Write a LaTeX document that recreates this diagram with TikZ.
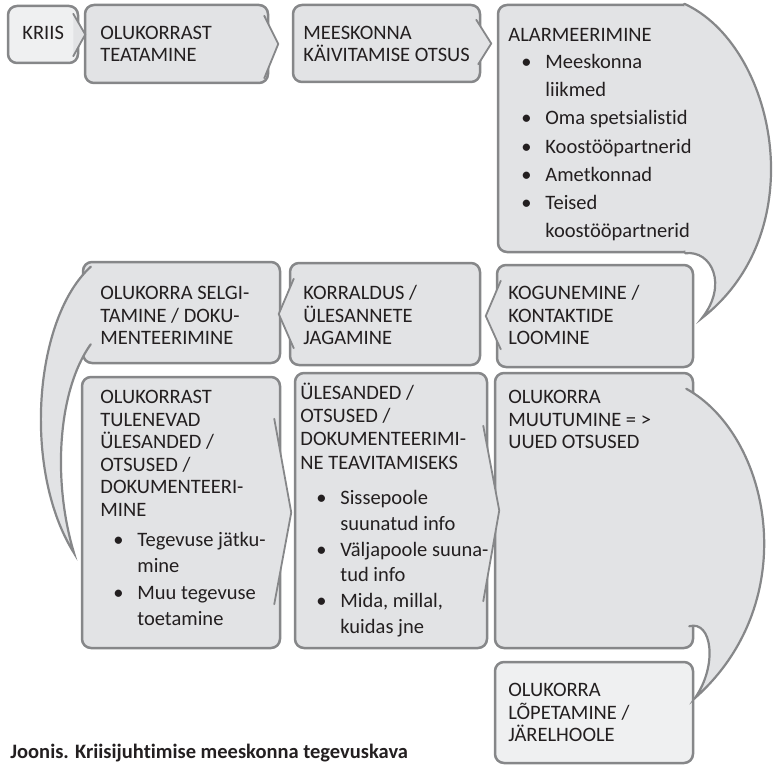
\documentclass[tikz,border=0pt]{standalone}
\usepackage{fontspec}
\setmainfont{Carlito}[Ligatures=NoCommon]
\usetikzlibrary{calc,fit}
\definecolor{boxline}{RGB}{134,135,137}
\definecolor{boxfill}{RGB}{226,227,229}
\definecolor{boxlight}{RGB}{239,240,241}
\definecolor{ink}{RGB}{35,31,32}
\tikzset{
  box/.style={rectangle, rounded corners=4.5pt, draw=boxline, fill=boxfill, line width=1.25pt, inner sep=0pt},
  lightbox/.style={box, fill=boxlight},
  tipline/.style={draw=boxline, fill=boxfill, line width=0.9pt, line cap=round, line join=round},
  bubble/.style={draw=boxline, fill=boxfill, line width=1.1pt, line cap=round},
  boxtext/.style={anchor=base west, inner sep=0pt, text=ink, font=\fontsize{10.25}{11.25}\selectfont}
}
\newcommand{\boxlines}[2][11.25pt]{\parbox[t]{8cm}{\raggedright\setlength{\baselineskip}{#1}#2}}
\newcommand{\bul}{\makebox[12pt][l]{\textbullet}}
\newcommand{\ind}{\hspace*{12pt}}
% chevron on the side of a box, towards the next one
\newcommand{\pointer}[3]{\path[tipline] #1 -- #2 -- #3;}

\begin{document}
\begin{tikzpicture}[x=0.5pt,y=-0.5pt]
\useasboundingbox (0,0) rectangle (775,765);
% boxes
\node[lightbox,fit={(8,6) (78,63)}] (kriis) {};
\node[box,fit={(85,5) (268,83)}] (teatamine) {};
\node[box,fit={(293,5) (480,82)}] (otsus) {};
\node[box,fit={(498,5) (693,252)}] (alarm) {};
\node[box,fit={(497,265) (693,367)}] (kogunemine) {};
\node[box,fit={(290,263) (480,365)}] (korraldus) {};
\node[box,fit={(83,262) (280,363)}] (selgitamine) {};
\node[box,fit={(82,377) (280,648)}] (tulenevad) {};
\node[box,fit={(295,373) (487,648)}] (teavitamine) {};
\node[box,fit={(495,373) (693,648)}] (muutumine) {};
\node[lightbox,fit={(495,662) (693,763)}] (lopetamine) {};

% chevrons
\pointer{($(kriis.north east)+(-6,9)$)}{($(kriis.east)+(6,0)$)}{($(kriis.south east)+(-6,-8)$)}
\pointer{($(teatamine.north east)+(-5,12)$)}{($(teatamine.east)+(9,0)$)}{($(teatamine.south east)+(-5,-6)$)}
\pointer{($(otsus.north east)+(-5,16)$)}{($(otsus.east)+(10,0)$)}{($(otsus.south east)+(-3,-19)$)}
\pointer{($(kogunemine.north west)+(5,17)$)}{($(kogunemine.west)+(-10,0)$)}{($(kogunemine.south west)+(5,-19)$)}
\pointer{($(korraldus.north west)+(5,17)$)}{($(korraldus.west)+(-10,0)$)}{($(korraldus.south west)+(5,-18)$)}
\pointer{($(tulenevad.north east)+(-7,43)$)}{($(tulenevad.east)+(10,0)$)}{($(tulenevad.south east)+(-7,-45)$)}
\pointer{($(teavitamine.north east)+(-5,54)$)}{($(teavitamine.east)+(11,0)$)}{($(teavitamine.south east)+(-5,-48)$)}

% bent arrows
\coordinate (alarmtip) at (702,318);
\coordinate (selgtip) at (74,553);
\coordinate (muuttip) at (695,698);
\path[bubble] ($(alarm.north east)+(-10,0)$) .. controls (775,45) and (815,230) .. (alarmtip)
  .. controls (728,285) and (712,250) .. ($(alarm.south east)+(-9,0)$);
\path[bubble] ($(selgitamine.north west)+(9,6)$) .. controls (34,318) and (22,470) .. (selgtip)
  .. controls (52,480) and (58,390) .. ($(selgitamine.south west)+(9,-20)$);
\path[bubble] ($(muutumine.north east)+(-8,17)$) .. controls (770,435) and (805,600) .. (muuttip)
  .. controls (718,665) and (712,620) .. ($(muutumine.south east)+(-5,-23)$);

% texts
\node[boxtext] (kriistxt) at (22,39.5) {\boxlines{KRIIS}};
\node[boxtext] (teatxt) at (100,39.5) {\boxlines{OLUKORRAST\\TEATAMINE}};
\node[boxtext] (otsustxt) at (303,39.5) {\boxlines{MEESKONNA\\KÄIVITAMISE OTSUS}};
\node[boxtext] (alarmtxt) at (508,41.5) {\boxlines{ALARMEERIMINE}};
\node[boxtext] (alarmlist) at (521,68.5) {\boxlines[14.1pt]{\bul Meeskonna\\\ind liikmed\\\bul Oma spetsialistid\\\bul Koostööpartnerid\\\bul Ametkonnad\\\bul Teised\\\ind koostööpartnerid}};
\node[boxtext] (kogutxt) at (508,299.5) {\boxlines{KOGUNEMINE /\\KONTAKTIDE\\LOOMINE}};
\node[boxtext] (korrtxt) at (303,299.5) {\boxlines{KORRALDUS /\\ÜLESANNETE\\JAGAMINE}};
\node[boxtext] (selgtxt) at (100,299.5) {\boxlines{OLUKORRA SELGI-\\TAMINE / DOKU-\\MENTEERIMINE}};
\node[boxtext] (tultxt) at (100,403.5) {\boxlines{OLUKORRAST\\TULENEVAD\\ÜLESANDED /\\OTSUSED /\\DOKUMENTEERI-\\MINE}};
\node[boxtext] (tullist) at (113,546.5) {\boxlines[13.2pt]{\bul Tegevuse jätku-\\\ind mine\\\bul Muu tegevuse\\\ind toetamine}};
\node[boxtext] (teavtxt) at (300,399.5) {\boxlines[11.6pt]{ÜLESANDED /\\OTSUSED /\\DOKUMENTEERIMI-\\NE TEAVITAMISEKS}};
\node[boxtext] (teavlist) at (316,504.5) {\boxlines[12.9pt]{\bul Sissepoole\\\ind suunatud info\\\bul Väljapoole suuna-\\\ind tud info\\\bul Mida, millal,\\\ind kuidas jne}};
\node[boxtext] (muuttxt) at (508,403.5) {\boxlines{OLUKORRA\\MUUTUMINE = >\\UUED OTSUSED}};
\node[boxtext] (loptxt) at (508,696.5) {\boxlines{OLUKORRA\\LÕPETAMINE /\\JÄRELHOOLE}};

\node[anchor=base west, inner sep=0pt, text=ink, font=\fontsize{10.25}{11.25}\selectfont\bfseries] (caption) at (10,758) {Joonis. Kriisijuhtimise meeskonna tegevuskava};
\end{tikzpicture}
\end{document}
